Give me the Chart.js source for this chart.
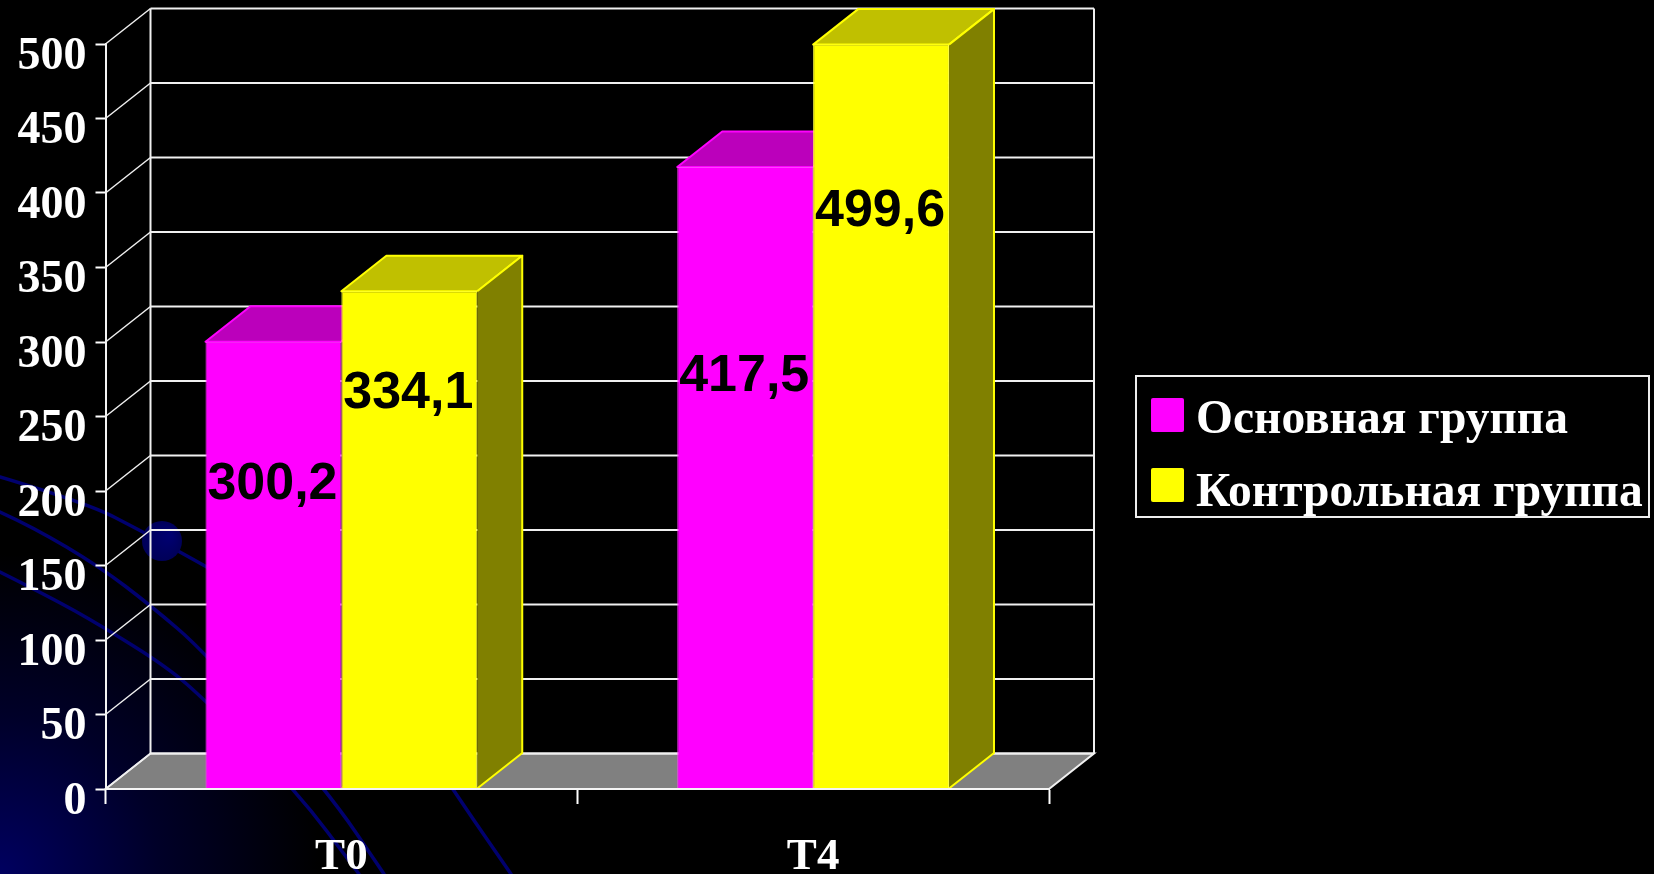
<!DOCTYPE html>
<html lang="ru">
<head>
<meta charset="utf-8">
<title>Основная и контрольная группа</title>
<script src="https://cdn.jsdelivr.net/npm/chart.js@4"></script>
<style>
    html, body { margin: 0; padding: 0; background: #000; }
    #wrap { position: relative; width: 1654px; height: 874px; overflow: hidden; }
    canvas { display: block; }
    #legend { position: absolute; left: 1135px; top: 375px; width: 511px; height: 139px; border: 2px solid #eee; box-sizing: content-box; }
    #legend .swatch { position: absolute; left: 14px; width: 33px; height: 34px; border-radius: 2px; }
    #legend .text { position: absolute; left: 59px; white-space: nowrap; color: #fff; font: bold 47.5px/50px "Liberation Serif", serif; }
</style>
</head>
<body>
<div id="wrap">
    <canvas id="groupsChart" width="1654" height="874"></canvas>
    <div id="legend"></div>
</div>
<script>
const categories = ['T0', 'T4'];
const seriesNames = ['Основная группа', 'Контрольная группа'];
const mainGroup = [300.2, 417.5];
const controlGroup = [334.1, 499.6];
// height on the value axis where each printed value sits
const mainLabelAt = [204, 276.5];
const controlLabelAt = [265.5, 387.5];
const yTicks = [0, 50, 100, 150, 200, 250, 300, 350, 400, 450, 500];

const SERIF = '"Liberation Serif", serif';
const SANS = '"Liberation Sans", sans-serif';

// fake 3D: how far the walls and bar sides recede
const DEPTH_X = 45;
const DEPTH_Y = -35.5;

const faceColors = [
    { top: '#bb00bb', side: '#800080', edge: '#ff00ff' },
    { top: '#c0c000', side: '#808000', edge: '#ffff00' }
];

function formatValue(v) {
    return v.toFixed(1).replace('.', ',');
}

function strokeCurve(ctx, pts) {
    ctx.beginPath();
    ctx.moveTo(pts[0][0], pts[0][1]);
    for (let i = 1; i < pts.length - 1; i++) {
        const mx = (pts[i][0] + pts[i + 1][0]) / 2;
        const my = (pts[i][1] + pts[i + 1][1]) / 2;
        ctx.quadraticCurveTo(pts[i][0], pts[i][1], mx, my);
    }
    const last = pts[pts.length - 1];
    ctx.lineTo(last[0], last[1]);
    ctx.stroke();
}

// dark slide backdrop: corner glow, arcs and the small disc
const backdropPlugin = {
    id: 'backdrop',
    beforeDraw(chart) {
        const ctx = chart.ctx;
        ctx.save();
        ctx.fillStyle = '#000';
        ctx.fillRect(0, 0, chart.width, chart.height);

        const glow = ctx.createRadialGradient(0, 874, 0, 0, 874, 320);
        glow.addColorStop(0, '#000060');
        glow.addColorStop(0.5, '#000028');
        glow.addColorStop(1, '#000000');
        ctx.fillStyle = glow;
        ctx.fillRect(0, 500, 330, 374);

        ctx.strokeStyle = '#00006e';
        ctx.lineWidth = 3.5;
        ctx.lineCap = 'round';
        strokeCurve(ctx, [[0, 477], [87, 503], [143, 532], [180, 552], [230, 580]]);
        strokeCurve(ctx, [[0, 512], [33, 527], [100, 567], [150, 605], [205, 652], [327, 790], [384, 874]]);
        strokeCurve(ctx, [[0, 572], [50, 597], [100, 625], [167, 667], [205, 700], [296, 790], [359, 874]]);
        strokeCurve(ctx, [[360, 650], [453, 790], [511, 874]]);

        const disc = ctx.createRadialGradient(170, 535, 2, 162, 541, 20);
        disc.addColorStop(0, '#000070');
        disc.addColorStop(1, '#000058');
        ctx.fillStyle = disc;
        ctx.beginPath();
        ctx.arc(162, 541, 20, 0, Math.PI * 2);
        ctx.fill();
        ctx.restore();
    }
};

// draws walls, floor and the side faces behind the bars, then the printed values
const box3dPlugin = {
    id: 'box3d',
    beforeDatasetsDraw(chart) {
        const ctx = chart.ctx;
        const area = chart.chartArea;
        const y = chart.scales.y;
        ctx.save();

        // floor
        ctx.beginPath();
        ctx.moveTo(area.left, area.bottom);
        ctx.lineTo(area.left + DEPTH_X, area.bottom + DEPTH_Y);
        ctx.lineTo(area.right + DEPTH_X, area.bottom + DEPTH_Y);
        ctx.lineTo(area.right, area.bottom);
        ctx.closePath();
        ctx.fillStyle = '#808080';
        ctx.fill();
        ctx.strokeStyle = '#f0f0f0';
        ctx.lineWidth = 2;
        ctx.stroke();

        // back wall lines and their slanted left-hand parts
        yTicks.forEach(t => {
            const py = y.getPixelForValue(t);
            ctx.lineWidth = 1.5;
            ctx.beginPath();
            ctx.moveTo(area.left, py);
            ctx.lineTo(area.left + DEPTH_X, py + DEPTH_Y);
            ctx.stroke();
            ctx.lineWidth = 2;
            ctx.beginPath();
            ctx.moveTo(area.left + DEPTH_X, py + DEPTH_Y);
            ctx.lineTo(area.right + DEPTH_X, py + DEPTH_Y);
            ctx.stroke();
        });
        ctx.lineWidth = 2;
        [area.left, area.right].forEach(px => {
            ctx.beginPath();
            ctx.moveTo(px + DEPTH_X, y.getPixelForValue(500) + DEPTH_Y);
            ctx.lineTo(px + DEPTH_X, y.getPixelForValue(0) + DEPTH_Y);
            ctx.stroke();
        });

        // top and side of every bar
        chart.data.datasets.forEach((ds, d) => {
            const colors = faceColors[d];
            chart.getDatasetMeta(d).data.forEach(bar => {
                const left = bar.x - bar.width / 2;
                const right = bar.x + bar.width / 2;
                ctx.strokeStyle = colors.edge;
                ctx.lineWidth = 2;
                ctx.lineJoin = 'round';

                ctx.beginPath();
                ctx.moveTo(left, bar.y);
                ctx.lineTo(left + DEPTH_X, bar.y + DEPTH_Y);
                ctx.lineTo(right + DEPTH_X, bar.y + DEPTH_Y);
                ctx.lineTo(right, bar.y);
                ctx.closePath();
                ctx.fillStyle = colors.top;
                ctx.fill();
                ctx.stroke();

                // side face, the edge shared with the front stays unstroked
                ctx.beginPath();
                ctx.moveTo(right, bar.y);
                ctx.lineTo(right + DEPTH_X, bar.y + DEPTH_Y);
                ctx.lineTo(right + DEPTH_X, bar.base + DEPTH_Y);
                ctx.lineTo(right, bar.base);
                ctx.fillStyle = colors.side;
                ctx.fill();
                ctx.stroke();
            });
        });
        ctx.restore();
    },
    afterDraw(chart) {
        const ctx = chart.ctx;
        const y = chart.scales.y;
        const labelRows = [mainLabelAt, controlLabelAt];
        ctx.save();
        ctx.textAlign = 'center';
        ctx.textBaseline = 'middle';
        ctx.fillStyle = '#000';
        ctx.font = 'bold 52px ' + SANS;
        chart.data.datasets.forEach((ds, d) => {
            chart.getDatasetMeta(d).data.forEach((bar, i) => {
                ctx.fillText(formatValue(ds.data[i]), bar.x - 1, y.getPixelForValue(labelRows[d][i]));
            });
        });
        ctx.restore();
    }
};

const ctx = document.getElementById('groupsChart');

new Chart(ctx, {
    type: 'bar',
    data: {
        labels: categories,
        datasets: [
            { label: seriesNames[0], data: mainGroup, backgroundColor: '#ff00ff', borderColor: '#ff40ff', borderWidth: 1 },
            { label: seriesNames[1], data: controlGroup, backgroundColor: '#ffff00', borderColor: '#ffff40', borderWidth: 1 }
        ]
    },
    options: {
        responsive: false,
        animation: false,
        events: [],
        categoryPercentage: 0.576,
        barPercentage: 1,
        layout: {
            autoPadding: false,
            padding: { left: 0, top: 44, right: 605, bottom: 0 }
        },
        plugins: {
            legend: { display: false },
            title: { display: false },
            tooltip: { enabled: false }
        },
        scales: {
            x: {
                afterFit(scale) { scale.height = 85; },
                grid: { drawOnChartArea: false, drawTicks: true, tickLength: 15, tickColor: '#fff', tickWidth: 2 },
                border: { display: true, color: '#f4f4f4', width: 2, z: 1 },
                ticks: {
                    color: '#fff',
                    padding: 26,
                    maxRotation: 0,
                    font: { family: SERIF, weight: 'bold', size: 45 }
                }
            },
            y: {
                min: 0,
                max: 500,
                afterFit(scale) { scale.width = 105.5; },
                afterBuildTicks(scale) { scale.ticks = yTicks.map(v => ({ value: v })); },
                grid: { drawOnChartArea: false, drawTicks: true, tickLength: 10, tickColor: '#fff', tickWidth: 2 },
                border: { display: true, color: '#f4f4f4', width: 2 },
                ticks: {
                    color: '#fff',
                    padding: 9,
                    labelOffset: 13,
                    font: { family: SERIF, weight: 'bold', size: 46 }
                }
            }
        }
    },
    plugins: [backdropPlugin, box3dPlugin]
});

// legend box on the right
const legendBox = document.getElementById('legend');
const swatchColors = ['#ff00ff', '#ffff00'];
seriesNames.forEach((name, i) => {
    const swatch = document.createElement('div');
    swatch.className = 'swatch';
    swatch.style.top = (21 + i * 70) + 'px';
    swatch.style.background = swatchColors[i];
    legendBox.appendChild(swatch);
    const text = document.createElement('div');
    text.className = 'text';
    text.style.top = (15 + i * 73) + 'px';
    text.textContent = name;
    legendBox.appendChild(text);
});
</script>
</body>
</html>
